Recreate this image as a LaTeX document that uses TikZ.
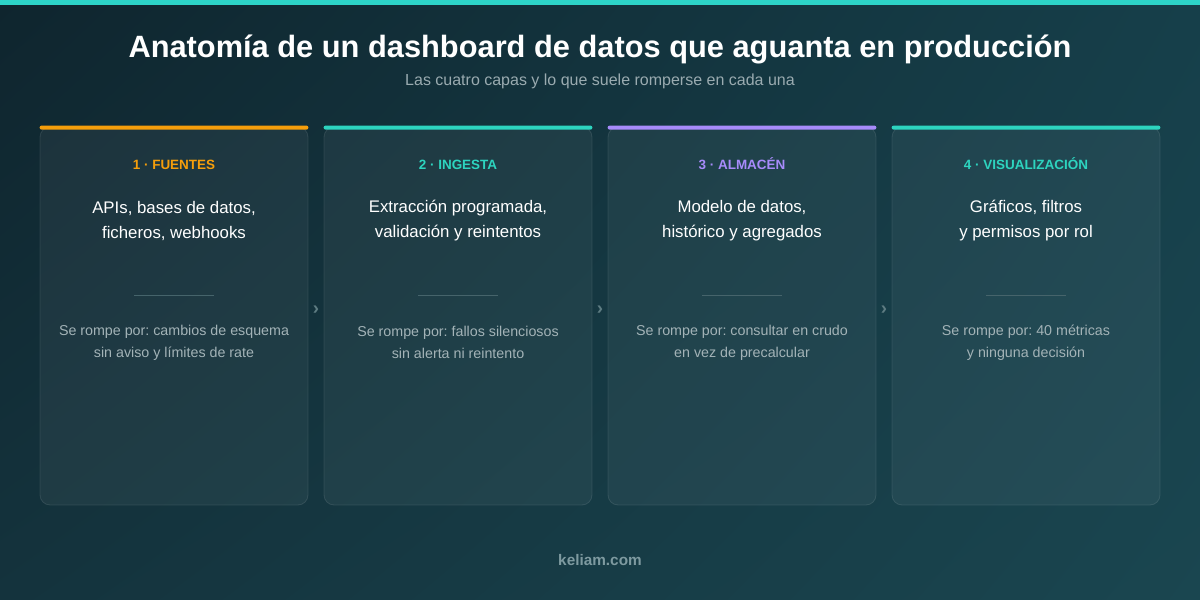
\documentclass[tikz,border=0pt]{standalone}
\usepackage{fontspec}
\setmainfont{Liberation Sans}
\usetikzlibrary{positioning, calc, shadings}
\definecolor{bgtl}{HTML}{0F252E}
\definecolor{bgbl}{HTML}{14333D}
\definecolor{bgtr}{HTML}{163F4A}
\definecolor{bgbr}{HTML}{1A4650}
\definecolor{topteal}{HTML}{2DD4C8}
\definecolor{fuenteorange}{HTML}{F59E0B}
\definecolor{ingestateal}{HTML}{2DD4BF}
\definecolor{almacenpurple}{HTML}{A78BFA}
\definecolor{subgray}{HTML}{9AABB0}
\definecolor{failgray}{HTML}{A3B3B7}
\definecolor{sepgray}{HTML}{46646B}
\definecolor{chevgray}{HTML}{5E7C82}
\definecolor{footgray}{HTML}{7E9AA0}
\frenchspacing
\tikzset{
x=0.75pt, y=-0.75pt, % one unit is one pixel of the reference, y runs down
card/.style={draw=white, draw opacity=0.10, line width=0.6pt, fill=white, fill opacity=0.05, rounded corners=7.5pt, minimum width=201pt, minimum height=283.5pt, inner sep=0pt}, % one layer
bar/.style={fill=#1, rounded corners=1.5pt}, % coloured strip on top of a layer
tag/.style={text=#1, font=\bfseries\fontsize{10.1}{11}\selectfont, anchor=base, inner sep=0pt}, % layer number and name
what/.style={text=white, font=\fontsize{12.6}{18.75}\selectfont, align=center, inner sep=0pt}, % what the layer holds
fail/.style={text=failgray, font=\fontsize{10.7}{16.5}\selectfont, align=center, inner sep=0pt}, % what breaks
sep/.style={draw=sepgray, line width=0.6pt}, % short rule in a layer
chev/.style={text=chevgray, font=\bfseries\fontsize{14}{14}\selectfont, inner sep=0pt}, % chevron between layers
}
\begin{document}
\begin{tikzpicture}
      \useasboundingbox (0,0) rectangle (1200,600);
      \shade[upper left=bgtl, upper right=bgtr, lower left=bgbl, lower right=bgbr] (0,0) rectangle (1200,600);
      \fill[topteal] (0,0) rectangle (1200,5);

      \node[text=white, font=\bfseries\fontsize{23.1}{26}\selectfont, anchor=base, inner sep=0pt] (title) at (600,57) {Anatomía de un dashboard de datos que aguanta en producción};
      \node[text=subgray, font=\fontsize{12}{14}\selectfont, anchor=base, inner sep=0pt] (subtitle) at (600,85) {Las cuatro capas y lo que suele romperse en cada una};

      \node[card] (c1) at (174,316) {};
      \node[card] (c2) at (458,316) {};
      \node[card] (c3) at (742,316) {};
      \node[card] (c4) at (1026,316) {};

      \fill[bar=fuenteorange] ($(c1.north west)+(0,-1)$) rectangle ($(c1.north east)+(0,3)$);
      \fill[bar=ingestateal] ($(c2.north west)+(0,-1)$) rectangle ($(c2.north east)+(0,3)$);
      \fill[bar=almacenpurple] ($(c3.north west)+(0,-1)$) rectangle ($(c3.north east)+(0,3)$);
      \fill[bar=ingestateal] ($(c4.north west)+(0,-1)$) rectangle ($(c4.north east)+(0,3)$);

      \node[tag=fuenteorange] (tag1) at ($(c1.north)+(0,43)$) {1 · FUENTES};
      \node[tag=ingestateal] (tag2) at ($(c2.north)+(0,43)$) {2 · INGESTA};
      \node[tag=almacenpurple] (tag3) at ($(c3.north)+(0,43)$) {3 · ALMACÉN};
      \node[tag=ingestateal] (tag4) at ($(c4.north)+(0,43)$) {4 · VISUALIZACIÓN};

      \node[what] (what1) at ($(c1.north)+(0,94)$) {APIs, bases de datos,\\ficheros, webhooks};
      \node[what] (what2) at ($(c2.north)+(0,94)$) {Extracción programada,\\validación y reintentos};
      \node[what] (what3) at ($(c3.north)+(0,94)$) {Modelo de datos,\\histórico y agregados};
      \node[what] (what4) at ($(c4.north)+(0,94)$) {Gráficos, filtros\\y permisos por rol};

      \draw[sep] ($(c1.north)+(-40,169)$) -- ($(c1.north)+(40,169)$);
      \draw[sep] ($(c2.north)+(-40,169)$) -- ($(c2.north)+(40,169)$);
      \draw[sep] ($(c3.north)+(-40,169)$) -- ($(c3.north)+(40,169)$);
      \draw[sep] ($(c4.north)+(-40,169)$) -- ($(c4.north)+(40,169)$);

      \node[fail] (fail1) at ($(c1.north)+(0,216)$) {Se rompe por: cambios de esquema\\sin aviso y límites de rate};
      \node[fail] (fail2) at ($(c2.north)+(0,216)$) {Se rompe por: fallos silenciosos\\sin alerta ni reintento};
      \node[fail] (fail3) at ($(c3.north)+(0,216)$) {Se rompe por: consultar en crudo\\en vez de precalcular};
      \node[fail] (fail4) at ($(c4.north)+(0,216)$) {Se rompe por: 40 métricas\\y ninguna decisión};

      \node[chev] (ch12) at ($(c1.east)!0.5!(c2.west)+(0,-6)$) {›};
      \node[chev] (ch23) at ($(c2.east)!0.5!(c3.west)+(0,-6)$) {›};
      \node[chev] (ch34) at ($(c3.east)!0.5!(c4.west)+(0,-6)$) {›};

      \node[text=footgray, font=\bfseries\fontsize{11.5}{13}\selectfont, anchor=base, inner sep=0pt] (foot) at (600,565) {keliam.com};
    \end{tikzpicture}
\end{document}
